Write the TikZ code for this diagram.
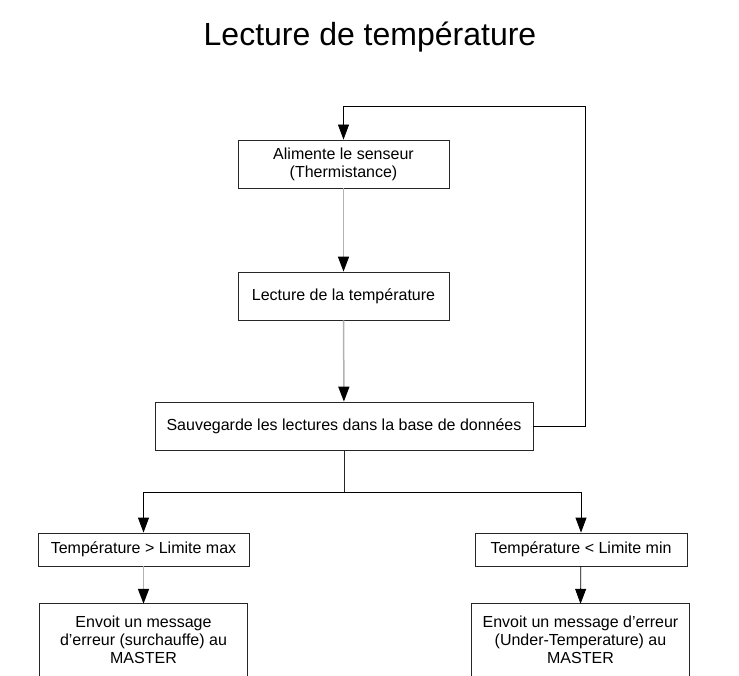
\documentclass[tikz,border=0pt]{standalone}
\usepackage{fontspec}
\setmainfont{Liberation Sans}
\usetikzlibrary{arrows.meta}
\begin{document}
\begin{tikzpicture}[x=1pt,y=-1pt,
  boxstyle/.style={draw=black!85,line width=0.8pt,inner sep=0pt,align=center,font=\fontsize{16}{18}\selectfont},
  openbox/.style={inner sep=0pt,align=center,font=\fontsize{16}{18}\selectfont},
  grayline/.style={draw=black!30,line width=1.5pt,-{Triangle[width=11pt,length=15pt,black]}},
  blackline/.style={draw=black,line width=0.8pt,-{Triangle[width=11pt,length=15pt,black]}},
  plainline/.style={draw=black!85,line width=0.8pt}]
\useasboundingbox (0,0) rectangle (739,676);
\node[font=\fontsize{32}{38}\selectfont] (title) at (370,37) {Lecture de température};
\node[boxstyle,minimum width=211pt,minimum height=48pt] (b1) at (343.5,164) {Alimente le senseur\\(Thermistance)};
\node[boxstyle,minimum width=211pt,minimum height=48pt] (b2) at (343.5,296) {Lecture de la température};
\node[boxstyle,minimum width=378pt,minimum height=48pt] (b3) at (344,426) {Sauvegarde les lectures dans la base de données};
\node[boxstyle,minimum width=211pt,minimum height=33pt] (b4) at (143.5,549.5) {Température > Limite max};
\node[boxstyle,minimum width=212pt,minimum height=33pt] (b5) at (581,549.5) {Température < Limite min};
\node[openbox,minimum width=207pt,minimum height=72pt] (b6) at (143.5,640) {Envoit un message\\d’erreur (surchauffe) au\\MASTER};
\node[openbox,minimum width=217pt,minimum height=72pt] (b7) at (580.5,640) {Envoit un message d’erreur\\(Under-Temperature) au\\MASTER};
\draw[plainline] (b6.south west) -- (b6.north west) -- (b6.north east) -- (b6.south east);
\draw[plainline] (b7.south west) -- (b7.north west) -- (b7.north east) -- (b7.south east);
\coordinate (lr) at (585,426);
\coordinate (ur) at (585,106);
\coordinate (ul) at (343.5,106);
\coordinate (split) at (344,492);
\coordinate (sl) at (143.5,492);
\coordinate (sr) at (581,492);
\draw[grayline] (b1) -- (b2);
\draw[grayline] (b2) -- (b3);
\draw[blackline] (b3.east) -- (lr) -- (ur) -- (ul) -- (b1.north);
\draw[plainline] (b3.south) -- (split);
\draw[blackline] (split) -- (sl) -- (b4.north);
\draw[blackline] (split) -- (sr) -- (b5.north);
\draw[grayline] (b4) -- (b6.north);
\draw[blackline] (b5) -- (b7.north);
\end{tikzpicture}
\end{document}
